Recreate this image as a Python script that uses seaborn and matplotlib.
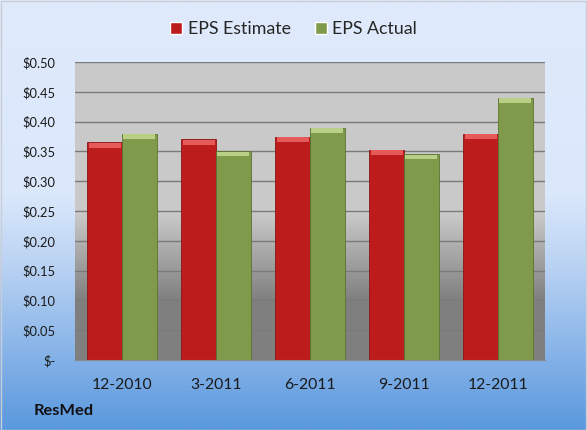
import numpy as np
import pandas as pd
import matplotlib
matplotlib.use('Agg')
import matplotlib.pyplot as plt
import seaborn as sns
from matplotlib.colors import LinearSegmentedColormap
from matplotlib.ticker import FuncFormatter, MultipleLocator

# data
quarters = ['12-2010', '3-2011', '6-2011', '9-2011', '12-2011']
eps_estimate = [0.365, 0.37, 0.375, 0.353, 0.38]
eps_actual = [0.38, 0.35, 0.39, 0.345, 0.44]
series = ['EPS Estimate', 'EPS Actual']
company = 'ResMed'

df = pd.DataFrame({
    'quarter': quarters * 2,
    'eps': eps_estimate + eps_actual,
    'series': [series[0]] * len(quarters) + [series[1]] * len(quarters),
})

sns.set_style('white')
plt.rcParams['font.family'] = ['Lato', 'DejaVu Sans']

W, H = 587, 430
fig = plt.figure(figsize=(W / 100, H / 100), dpi=100)

# figure background gradient (light blue -> blue)
bg = fig.add_axes([0, 0, 1, 1], zorder=-10)
bg_cmap = LinearSegmentedColormap.from_list(
    'bg', [(0, '#dfeafb'), (0.45, '#dbe8fb'), (0.62, '#b9d2f3'), (1, '#5a98de')])
bg.imshow(np.linspace(0, 1, 256).reshape(-1, 1), cmap=bg_cmap, aspect='auto',
          extent=[0, 1, 0, 1])
bg.set_axis_off()
fig.patches.append(plt.Rectangle((0.001, 0.001), 0.997, 0.996, transform=fig.transFigure,
                                 fill=False, edgecolor='#c8cdd6', linewidth=1))

ax = fig.add_axes([75 / W, 1 - 360 / H, (545 - 75) / W, (360 - 62) / H])
ax.set_facecolor('none')

colors = {'EPS Estimate': '#bd1c1c', 'EPS Actual': '#7f9a4b'}
sns.barplot(data=df, x='quarter', y='eps', hue='series', palette=colors,
            width=0.735, saturation=1, ax=ax, zorder=3, legend=True)

# plot area gradient (light gray -> dark gray)
pa_cmap = LinearSegmentedColormap.from_list(
    'pa', [(0, '#7f7f7f'), (0.2, '#808080'), (0.49, '#c9c9c9'), (1, '#cacaca')])
ax.set_ylim(0, 0.5)
ax.set_xlim(-0.5, len(quarters) - 0.5)
ax.imshow(np.linspace(0, 1, 256).reshape(-1, 1), cmap=pa_cmap, aspect='auto',
          origin='lower', extent=[-0.5, len(quarters) - 0.5, 0, 0.5], zorder=0)

# bevel on bar tops and darker edges
bevel = {'EPS Estimate': '#e65a5a', 'EPS Actual': '#b9cf85'}
edges = {'EPS Estimate': '#8c1414', 'EPS Actual': '#5d7334'}
for cont, name in zip(ax.containers, series):
    for p in cont.patches:
        p.set_edgecolor(edges[name])
        p.set_linewidth(0.6)
        ax.bar(p.get_x() + p.get_width() / 2, 0.008, width=p.get_width() * 0.92,
               bottom=p.get_height() - 0.0085, color=bevel[name], zorder=4,
               linewidth=0)

ax.yaxis.set_major_locator(MultipleLocator(0.05))
ax.grid(axis='y', color='#7a7a7a', linewidth=1, zorder=1)
ax.set_axisbelow(False)
for ln in ax.get_ygridlines():
    ln.set_zorder(1)
ax.yaxis.set_major_formatter(FuncFormatter(lambda v, _: '$-' if v == 0 else f'${v:.2f}'))
ax.tick_params(axis='y', labelsize=9.3, pad=14, length=0, labelcolor='#1a1a1a')
ax.tick_params(axis='x', labelsize=11.3, pad=13, length=0, labelcolor='#1a1a1a')
ax.set_xlabel('')
ax.set_ylabel('')
for s in ['top', 'left', 'right']:
    ax.spines[s].set_visible(False)
ax.spines['bottom'].set_color('#8a8a8a')
ax.spines['bottom'].set_zorder(5)

handles, labels = ax.get_legend_handles_labels()
ax.legend_.remove()
fig.legend(handles, labels, loc='center', bbox_to_anchor=(0.5, 1 - 29 / H), ncol=2,
           frameon=False, fontsize=12.8, handlelength=0.68, handleheight=0.68,
           handletextpad=0.3, columnspacing=1.35)

fig.text(34 / W, 1 - 411 / H, company, fontsize=11.8, fontweight='bold', va='center',
         ha='left', color='#111111')

fig.savefig('out.png', dpi=100)
